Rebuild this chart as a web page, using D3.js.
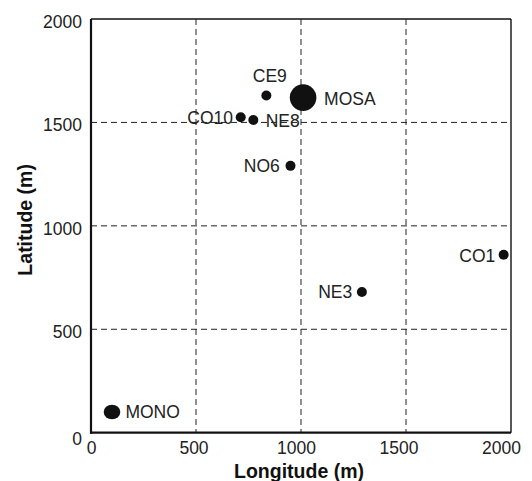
<!DOCTYPE html>
<html>
<head>
<meta charset="utf-8">
<script src="https://cdn.jsdelivr.net/npm/d3@7/dist/d3.min.js"></script>
<style>
  html, body { margin: 0; padding: 0; background: #fff; }
  svg { display: block; font-family: "Liberation Sans", Arial, sans-serif; }
</style>
</head>
<body>
<svg id="chart" width="532" height="481"></svg>
<script>
// ---- data ----
const stations  = ["MONO", "MOSA", "CE9", "CO10", "NE8", "NO6", "CO1", "NE3"];
const longitude = [100, 1010, 835, 713, 773, 950, 1965, 1290];
const latitude  = [100, 1620, 1630, 1525, 1512, 1290, 860, 680];
const xTicks = [0, 500, 1000, 1500, 2000];
const yTicks = [0, 500, 1000, 1500, 2000];

// ---- styling / layout (not data) ----
const markerR = { MONO: [8.3, 7.3], MOSA: [13.3, 13.3] };
const defaultR = [5, 5];
const labelPos = {
  MONO: { anchor: "start",  dx: 13.4, dy: 6.3 },
  MOSA: { anchor: "start",  dx: 21,   dy: 7.6 },
  CE9:  { anchor: "middle", dx: 3.5,  dy: -13.3 },
  CO10: { anchor: "end",    dx: -7.7, dy: 6.7 },
  NE8:  { anchor: "start",  dx: 12.4, dy: 6.7 },
  NO6:  { anchor: "end",    dx: -10.7, dy: 6 },
  CO1:  { anchor: "end",    dx: -8.3, dy: 6.7 },
  NE3:  { anchor: "end",    dx: -9.7, dy: 6.3 }
};

const svg = d3.select("#chart");
const pLeft = 91, pRight = 511, pTop = 19, pBottom = 432.7;

const x = d3.scaleLinear().domain([0, 2000]).range([pLeft, pRight]);
const y = d3.scaleLinear().domain([0, 2000]).range([pBottom, pTop]);
// tick labels in the original sit on a slightly compressed scale
const xLab = x.copy().range([pLeft, pRight - 10]);

// grid lines
const grid = svg.append("g").attr("stroke", "#222").attr("stroke-width", 1)
  .attr("stroke-dasharray", "6,4").attr("fill", "none");
grid.selectAll("line.v").data(xTicks.filter(d => d > 0 && d < 2000)).enter().append("line")
  .attr("class", "v")
  .attr("x1", d => x(d)).attr("x2", d => x(d)).attr("y1", pTop).attr("y2", pBottom);
grid.selectAll("line.h").data(yTicks.filter(d => d > 0 && d < 2000)).enter().append("line")
  .attr("class", "h")
  .attr("x1", pLeft).attr("x2", pRight).attr("y1", d => y(d)).attr("y2", d => y(d));

// frame
svg.append("line").attr("x1", pLeft).attr("x2", pRight).attr("y1", pTop).attr("y2", pTop)
  .attr("stroke", "#111").attr("stroke-width", 1.4);
svg.append("line").attr("x1", pRight).attr("x2", pRight).attr("y1", pTop).attr("y2", pBottom)
  .attr("stroke", "#111").attr("stroke-width", 1.4);

// axes
const xAxis = svg.append("g").attr("transform", `translate(0,${pBottom})`)
  .call(d3.axisBottom(xLab).tickValues(xTicks).tickSize(0).tickPadding(9).tickFormat(d3.format("d")));
xAxis.select(".domain").remove();
xAxis.append("line").attr("x1", pLeft - 1).attr("x2", pRight).attr("stroke", "#111").attr("stroke-width", 2.2);
xAxis.selectAll("text").attr("font-size", "17.5px").attr("fill", "#222")
  .attr("font-family", "Liberation Sans, Arial, sans-serif");

const yAxis = svg.append("g").attr("transform", `translate(${pLeft},0)`)
  .call(d3.axisLeft(y).tickValues(yTicks).tickSize(0).tickPadding(9).tickFormat(d3.format("d")));
yAxis.select(".domain").remove();
yAxis.append("line").attr("y1", pTop).attr("y2", pBottom + 1).attr("stroke", "#111").attr("stroke-width", 2.2);
yAxis.selectAll("text").attr("font-size", "17.5px").attr("fill", "#222")
  .attr("font-family", "Liberation Sans, Arial, sans-serif")
  .attr("dy", (d) => d === 0 ? "0.65em" : "0.48em");

// axis titles
svg.append("text").attr("x", (pLeft + pRight) / 2 - 2).attr("y", 478)
  .attr("text-anchor", "middle").attr("font-size", "19.5px").attr("font-weight", "bold")
  .attr("fill", "#111").text("Longitude (m)");
svg.append("text").attr("transform", `translate(32,${(pTop + pBottom) / 2 - 6}) rotate(-90)`)
  .attr("text-anchor", "middle").attr("font-size", "19.5px").attr("font-weight", "bold")
  .attr("fill", "#111").text("Latitude (m)");

// points
const pts = stations.map((s, i) => ({ name: s, lon: longitude[i], lat: latitude[i] }));
const g = svg.append("g");
g.selectAll("ellipse").data(pts).enter().append("ellipse")
  .attr("cx", d => x(d.lon)).attr("cy", d => y(d.lat))
  .attr("rx", d => (markerR[d.name] || defaultR)[0])
  .attr("ry", d => (markerR[d.name] || defaultR)[1])
  .attr("fill", "#111");
g.selectAll("text").data(pts).enter().append("text")
  .attr("x", d => x(d.lon) + labelPos[d.name].dx)
  .attr("y", d => y(d.lat) + labelPos[d.name].dy)
  .attr("text-anchor", d => labelPos[d.name].anchor)
  .attr("font-size", "17.5px").attr("fill", "#222")
  .text(d => d.name);
</script>
</body>
</html>
